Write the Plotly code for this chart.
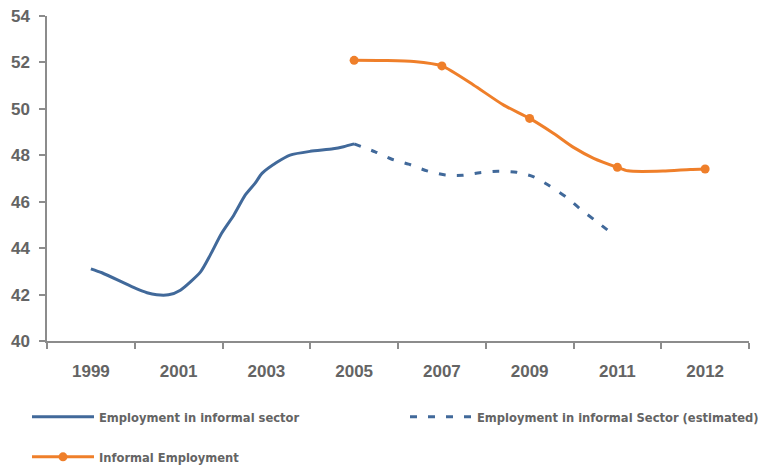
import plotly.graph_objects as go

# Category axis labels (equally spaced positions 0..7)
categories = ["1999", "2001", "2003", "2005", "2007", "2009", "2011", "2012"]

# Employment in informal sector (positions in category units)
sector_x = [0, 0.126, 0.486, 0.64, 0.75, 0.885, 1.02, 1.25, 1.36, 1.49, 1.63,
            1.76, 1.87, 1.95, 2.12, 2.27, 2.5, 2.76, 2.88, 3.0]
sector_y = [43.11, 42.94, 42.31, 42.08, 41.99, 41.99, 42.19, 42.98, 43.70, 44.64,
            45.43, 46.29, 46.79, 47.22, 47.70, 48.01, 48.17, 48.28, 48.37, 48.49]

# Employment in informal Sector (estimated)
est_x = [3.0, 3.24, 3.43, 3.62, 3.83, 4.04, 4.24, 4.43, 4.64, 4.85, 5.04, 5.23,
         5.42, 5.57, 5.74, 5.95]
est_y = [48.49, 48.15, 47.83, 47.62, 47.33, 47.15, 47.14, 47.25, 47.31, 47.27,
         47.08, 46.68, 46.19, 45.71, 45.21, 44.6]

# Informal Employment
inf_x = [3, 3.35, 3.68, 4, 4.36, 4.70, 5, 5.27, 5.5, 5.73, 6, 6.12, 6.52, 6.83, 7]
inf_y = [52.09, 52.08, 52.04, 51.85, 51.03, 50.17, 49.59, 48.95, 48.34, 47.87,
         47.48, 47.33, 47.32, 47.39, 47.41]
inf_marked = [0, 3, 6, 10, 14]

BLUE = "#41699a"
ORANGE = "#ef7f2a"
GRAY = "#646464"
AXIS = "#8c8c8c"

fig = go.Figure()
fig.add_trace(go.Scatter(
    x=sector_x, y=sector_y, mode="lines", name="Employment in informal sector",
    line=dict(color=BLUE, width=3, shape="spline", smoothing=0.6), legend="legend"))
fig.add_trace(go.Scatter(
    x=est_x, y=est_y, mode="lines", name="Employment in informal Sector (estimated)",
    line=dict(color=BLUE, width=3, shape="spline", smoothing=0.6, dash="7px,11px"),
    legend="legend2"))
fig.add_trace(go.Scatter(
    x=inf_x, y=inf_y, mode="lines+markers", name="Informal Employment",
    line=dict(color=ORANGE, width=3, shape="spline", smoothing=0.6),
    marker=dict(color=ORANGE, size=9),
    selectedpoints=inf_marked,
    selected=dict(marker=dict(opacity=1)),
    unselected=dict(marker=dict(opacity=0)),
    legend="legend3"))

tickfont = dict(family="Liberation Sans", size=17, color=GRAY, weight="bold")
legfont = dict(family="'DejaVu Sans Condensed', 'Liberation Sans Narrow', sans-serif",
               size=12.8, color=GRAY, weight="bold")

W, H = 766, 467
PLOT_L, PLOT_R, PLOT_T, PLOT_B = 47, 749, 16, 341

def px_x(p):
    return (p - PLOT_L) / (PLOT_R - PLOT_L)

def px_y(p):
    return (PLOT_B - p) / (PLOT_B - PLOT_T)

leg_common = dict(orientation="h", xanchor="left", yanchor="middle",
                  font=legfont, itemwidth=62, bgcolor="rgba(0,0,0,0)")

fig.update_layout(
    width=W, height=H,
    margin=dict(l=PLOT_L, r=W - PLOT_R, t=PLOT_T, b=H - PLOT_B, autoexpand=False),
    paper_bgcolor="white", plot_bgcolor="white",
    font=dict(family="Liberation Sans"),
    xaxis=dict(
        range=[-0.5, 7.5], tickmode="array", tickvals=list(range(len(categories))),
        ticktext=categories, ticks="",
        showgrid=False, zeroline=False, showline=True, linecolor=AXIS, linewidth=1.5,
        tickfont=tickfont, ticklabelstandoff=14,
        minor=dict(tickmode="linear", tick0=-0.5, dtick=1, ticks="outside",
                   ticklen=6, tickcolor=AXIS, tickwidth=1.5, showgrid=False),
    ),
    yaxis=dict(
        range=[40, 54], tickmode="array", tickvals=list(range(40, 55, 2)),
        ticks="outside", ticklen=6, tickcolor=AXIS, tickwidth=1.5,
        showgrid=False, zeroline=False, showline=True, linecolor=AXIS, linewidth=1.5,
        tickfont=tickfont, ticklabelstandoff=6, ticklabeloverflow="allow",
    ),
    legend=dict(x=px_x(27), y=px_y(417), **leg_common),
    legend2=dict(x=px_x(405), y=px_y(417), **leg_common),
    legend3=dict(x=px_x(27), y=px_y(457), **leg_common),
    showlegend=True,
)

# remove the default 8px page margin so the figure fills the window
fig.write_html("out.html", config={"displayModeBar": False},
               post_script="document.body.style.margin='0';")
